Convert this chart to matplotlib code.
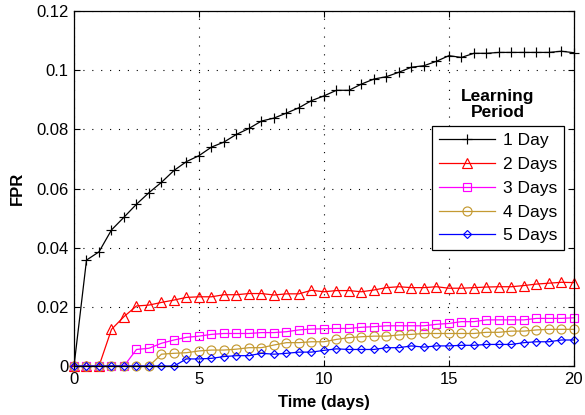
import numpy as np
import matplotlib.pyplot as plt

# ------------------- DATA -------------------
days = np.arange(0, 20.5, 0.5)

fpr_1day = [0.0, 0.0358, 0.0386, 0.0460, 0.0503, 0.0547, 0.0586, 0.0621, 0.0661, 0.0691,
            0.0711, 0.0740, 0.0757, 0.0783, 0.0803, 0.0828, 0.0838, 0.0855, 0.0873, 0.0897,
            0.0913, 0.0932, 0.0932, 0.0953, 0.0970, 0.0978, 0.0993, 0.1010, 0.1015, 0.1030,
            0.1049, 0.1043, 0.1057, 0.1057, 0.1060, 0.1060, 0.1060, 0.1060, 0.1060, 0.1064,
            0.1059]
fpr_2days = [0.0, 0.0, 0.0, 0.0124, 0.0167, 0.0203, 0.0206, 0.0215, 0.0223, 0.0232,
             0.0234, 0.0234, 0.0241, 0.0241, 0.0245, 0.0245, 0.0240, 0.0244, 0.0244, 0.0256,
             0.0251, 0.0255, 0.0255, 0.0251, 0.0257, 0.0265, 0.0268, 0.0265, 0.0265, 0.0268,
             0.0263, 0.0263, 0.0265, 0.0267, 0.0268, 0.0268, 0.0272, 0.0277, 0.0280, 0.0283,
             0.0282]
fpr_3days = [0.0, 0.0, 0.0, 0.0, 0.0, 0.0056, 0.0060, 0.0077, 0.0088, 0.0097,
             0.0101, 0.0107, 0.0110, 0.0110, 0.0110, 0.0113, 0.0113, 0.0116, 0.0122, 0.0125,
             0.0126, 0.0127, 0.0127, 0.0131, 0.0133, 0.0136, 0.0136, 0.0136, 0.0136, 0.0141,
             0.0144, 0.0150, 0.0150, 0.0156, 0.0156, 0.0156, 0.0156, 0.0161, 0.0161, 0.0161,
             0.0163]
fpr_4days = [0.0, 0.0, 0.0, 0.0, 0.0, 0.0, 0.0, 0.0040, 0.0043, 0.0045,
             0.0051, 0.0054, 0.0054, 0.0057, 0.0062, 0.0062, 0.0071, 0.0079, 0.0079, 0.0082,
             0.0082, 0.0090, 0.0096, 0.0099, 0.0101, 0.0101, 0.0105, 0.0107, 0.0110, 0.0110,
             0.0110, 0.0110, 0.0110, 0.0114, 0.0114, 0.0118, 0.0118, 0.0122, 0.0124, 0.0124,
             0.0124]
fpr_5days = [0.0, 0.0, 0.0, 0.0, 0.0, 0.0, 0.0, 0.0, 0.0, 0.0024,
             0.0024, 0.0026, 0.0032, 0.0035, 0.0035, 0.0043, 0.0040, 0.0043, 0.0047, 0.0047,
             0.0053, 0.0058, 0.0056, 0.0056, 0.0056, 0.0062, 0.0062, 0.0068, 0.0064, 0.0068,
             0.0068, 0.0070, 0.0070, 0.0073, 0.0073, 0.0073, 0.0079, 0.0082, 0.0082, 0.0088,
             0.0088]

series_labels = ['1 Day', '2 Days', '3 Days', '4 Days', '5 Days']
series_colors = ['black', 'red', 'magenta', '#C49A32', 'blue']
series_markers = ['+', '^', 's', 'o', 'D']
series_msize = [7, 6.5, 6, 6.5, 4.5]

y_ticks = [0, 0.02, 0.04, 0.06, 0.08, 0.1, 0.12]
y_ticklabels = ['0', '0.02', '0.04', '0.06', '0.08', '0.1', '0.12']
x_ticks = [0, 5, 10, 15, 20]

# ------------------- PLOT -------------------
plt.rcParams['font.family'] = ['Liberation Sans', 'DejaVu Sans']

fig = plt.figure(figsize=(5.85, 4.15), dpi=100)
ax = fig.add_axes([0.1265, 0.118, 0.8545, 0.8555])

all_series = [fpr_1day, fpr_2days, fpr_3days, fpr_4days, fpr_5days]
for vals, lab, col, mk, ms in zip(all_series, series_labels, series_colors,
                                  series_markers, series_msize):
    ax.plot(days, vals, color=col, marker=mk, markersize=ms, markerfacecolor='none',
            markeredgecolor=col, markeredgewidth=0.85, linewidth=0.9, label=lab,
            clip_on=False)

ax.set_xlim(0, 20)
ax.set_ylim(0, 0.12)
ax.set_xticks(x_ticks)
ax.set_yticks(y_ticks)
ax.set_yticklabels(y_ticklabels)
ax.tick_params(direction='in', top=True, right=True, length=4, width=0.8,
               labelsize=12, pad=4)
for sp in ax.spines.values():
    sp.set_linewidth(0.9)

ax.grid(True, linestyle=(0, (1, 7)), color='black', linewidth=0.8)
ax.set_axisbelow(True)

ax.set_xlabel('Time (days)', fontsize=12, fontweight='bold', labelpad=6)
ax.set_ylabel('FPR', fontsize=12, fontweight='bold', labelpad=8)

# legend box sits under a separate bold title
leg = ax.legend(loc='upper left', bbox_to_anchor=(0.717, 0.676), fontsize=12.5,
                frameon=True, fancybox=False, edgecolor='black', framealpha=1,
                handlelength=3.2, handletextpad=0.45, borderpad=0.4,
                labelspacing=0.5, borderaxespad=0)
leg.get_frame().set_linewidth(0.9)

ax.text(0.848, 0.693, 'Learning\nPeriod', transform=ax.transAxes, ha='center',
        va='bottom', fontsize=12.5, fontweight='bold', linespacing=1.05)

fig.savefig('out.png', dpi=100)
plt.close(fig)
